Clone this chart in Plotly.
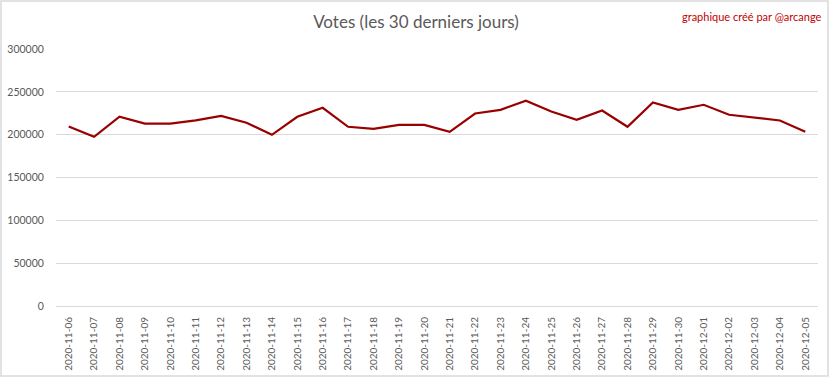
import plotly.graph_objects as go

dates = ["2020-11-06","2020-11-07","2020-11-08","2020-11-09","2020-11-10","2020-11-11",
         "2020-11-12","2020-11-13","2020-11-14","2020-11-15","2020-11-16","2020-11-17",
         "2020-11-18","2020-11-19","2020-11-20","2020-11-21","2020-11-22","2020-11-23",
         "2020-11-24","2020-11-25","2020-11-26","2020-11-27","2020-11-28","2020-11-29",
         "2020-11-30","2020-12-01","2020-12-02","2020-12-03","2020-12-04","2020-12-05"]
votes = [209500, 197500, 220900, 213000, 213000, 216600, 222000, 213900, 199800, 220900,
         231400, 209200, 206800, 211500, 211500, 203300, 224700, 229000, 239600, 227000,
         217400, 228200, 209200, 237600, 229000, 234900, 223200, 220100, 216600, 203300]
y_ticks = [0, 50000, 100000, 150000, 200000, 250000, 300000]

W, H = 832, 379
ml, mr, mt, mb = 56, 14, 49, 73

fig = go.Figure(go.Scatter(x=dates, y=votes, mode="lines",
                           line=dict(color="#990000", width=2.2)))

fig.update_layout(
    width=W, height=H,
    margin=dict(l=ml, r=mr, t=mt, b=mb, autoexpand=False),
    plot_bgcolor="white", paper_bgcolor="white",
    font=dict(family="Lato, Open Sans, sans-serif", color="#595959", size=10),
    title=dict(text="Votes (les 30 derniers jours)", x=0.5, xanchor="center",
               y=1 - 22 / H, yanchor="middle",
               font=dict(size=17, color="#595959")),
    showlegend=False,
    xaxis=dict(type="category", tickangle=-90, showgrid=False, showline=False,
               automargin=False, ticks="outside", ticklen=6, tickcolor="rgba(0,0,0,0)",
               range=[-0.5, len(dates) - 0.5],
               tickfont=dict(size=10, color="#595959")),
    yaxis=dict(range=[0, 300000], tickvals=y_ticks, ticktext=[str(v) for v in y_ticks],
               showgrid=True, gridcolor="#d9d9d9", gridwidth=1, zeroline=True,
               zerolinecolor="#d9d9d9", zerolinewidth=1, automargin=False,
               ticks="outside", ticklen=9, tickcolor="rgba(0,0,0,0)",
               tickfont=dict(size=10.5, color="#595959")),
)

fig.add_annotation(text="graphique créé par @arcange", xref="paper", yref="paper",
                   x=(824 - ml) / (W - ml - mr), xanchor="right",
                   y=1 + (mt - 16) / (H - mt - mb), yanchor="middle", showarrow=False,
                   font=dict(size=11, color="#c00000"))

pw, ph = W - ml - mr, H - mt - mb
fig.add_shape(type="rect", xref="paper", yref="paper",
              x0=(1 - ml) / pw, x1=(W - 4 - ml) / pw,
              y0=-(mb - 3) / ph, y1=1 + (mt - 1) / ph,
              line=dict(color="#d9d9d9", width=1.5), fillcolor="rgba(0,0,0,0)")

fig.write_html("out.html", config={"displayModeBar": False},
               post_script="document.body.style.margin='0';document.body.style.overflow='hidden';")
